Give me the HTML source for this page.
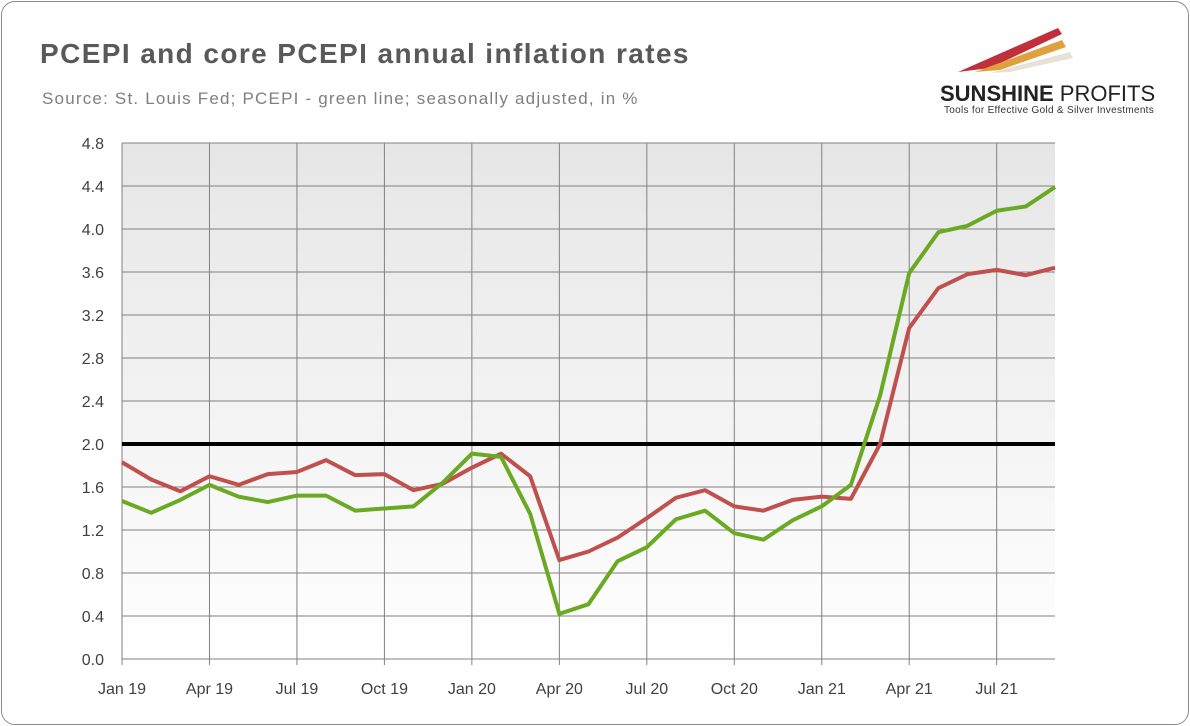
<!DOCTYPE html>
<html><head><meta charset="utf-8"><style>
body{margin:0;width:1190px;height:726px;background:#fff;font-family:"Liberation Sans",sans-serif;overflow:hidden}
#card{position:absolute;left:1px;top:1px;width:1186px;height:722px;border:1px solid #8a8a8a;border-radius:14px;background:#fff}
svg{position:absolute;left:0;top:0}
</style></head><body>
<div id="card"></div>
<svg width="1190" height="726">
<defs><linearGradient id="bg" x1="0" y1="0" x2="0" y2="1"><stop offset="0" stop-color="#e6e6e6"/><stop offset="1" stop-color="#ffffff"/></linearGradient></defs>
<text x="40" y="63" font-size="28" font-weight="bold" letter-spacing="1.4" fill="#595959">PCEPI and core PCEPI annual inflation rates</text>
<text x="42" y="104" font-size="17" letter-spacing="1.2" fill="#7f7f7f">Source: St. Louis Fed; PCEPI - green line; seasonally adjusted, in %</text>
<g>
<polygon points="958,72 1058,28 1062,34 990,68" fill="#c0303a"/>
<polygon points="975,72 1062,40 1066,47 1000,70" fill="#e0a040"/>
<polygon points="990,73 1070,52 1073,58 1010,72" fill="#e6e2d6"/>
<text x="940" y="101" font-size="22" font-weight="bold" fill="#222">SUNSHINE <tspan font-weight="normal">PROFITS</tspan></text>
<text x="944" y="113" font-size="10" letter-spacing="0.3" fill="#333">Tools for Effective Gold &amp; Silver Investments</text>
</g>
<rect x="122" y="143" width="933" height="516" fill="url(#bg)"/>
<g id="grid"></g><g id="lines"></g><g id="labels"></g>
</svg>
<script>
const months=["Jan 19","Apr 19","Jul 19","Oct 19","Jan 20","Apr 20","Jul 20","Oct 20","Jan 21","Apr 21","Jul 21"];
const yTicks=[0,0.4,0.8,1.2,1.6,2.0,2.4,2.8,3.2,3.6,4.0,4.4,4.8];
const pcepi=[1.47,1.36,1.48,1.62,1.51,1.46,1.52,1.52,1.38,1.40,1.42,1.64,1.91,1.88,1.35,0.42,0.51,0.91,1.04,1.30,1.38,1.17,1.11,1.29,1.42,1.62,2.45,3.59,3.97,4.03,4.17,4.21,4.39];
const core=[1.83,1.67,1.56,1.70,1.62,1.72,1.74,1.85,1.71,1.72,1.57,1.63,1.78,1.91,1.70,0.92,1.00,1.13,1.31,1.50,1.57,1.42,1.38,1.48,1.51,1.49,2.00,3.08,3.45,3.58,3.62,3.57,3.64];
const target=2.0;
const NS="http://www.w3.org/2000/svg";
const x0=122,x1=1055,y0=659,y1=143,n=pcepi.length;
const X=i=>x0+i*(x1-x0)/(n-1);
const Y=v=>y0-v/4.8*(y0-y1);
function mk(t,a,p){const e=document.createElementNS(NS,t);for(const k in a)e.setAttribute(k,a[k]);document.getElementById(p).appendChild(e);return e;}
yTicks.forEach(v=>{
 const l=mk("line",{x1:x0,x2:x1,y1:Y(v),y2:Y(v),stroke:"#808080","stroke-width":1},"grid");
 
 
 const t=mk("text",{x:104,y:Y(v)+6,"text-anchor":"end","font-size":16,fill:"#404040"},"labels");
 t.textContent=v.toFixed(1);
 
 
});
months.forEach((m,k)=>{
 const x=X(k*3);
 const l=mk("line",{x1:x,x2:x,y1:y1,y2:y0+6,stroke:"#808080","stroke-width":1},"grid");
 
 
 const t=mk("text",{x:x,y:694,"text-anchor":"middle","font-size":16,fill:"#404040"},"labels");
 t.textContent=m;
 
 
});
const tl=mk("line",{x1:x0,x2:x1,y1:Y(target),y2:Y(target),stroke:"#000","stroke-width":4},"lines");


function series(d,c,name){
 const p=mk("polyline",{points:d.map((v,i)=>X(i)+","+Y(v)).join(" "),fill:"none",stroke:c,"stroke-width":4,"stroke-linejoin":"round"},"lines");
 
 
}
series(core,"#c0504d","core-pcepi-line");
series(pcepi,"#6aaa22","pcepi-line");
</script>
</body></html>
